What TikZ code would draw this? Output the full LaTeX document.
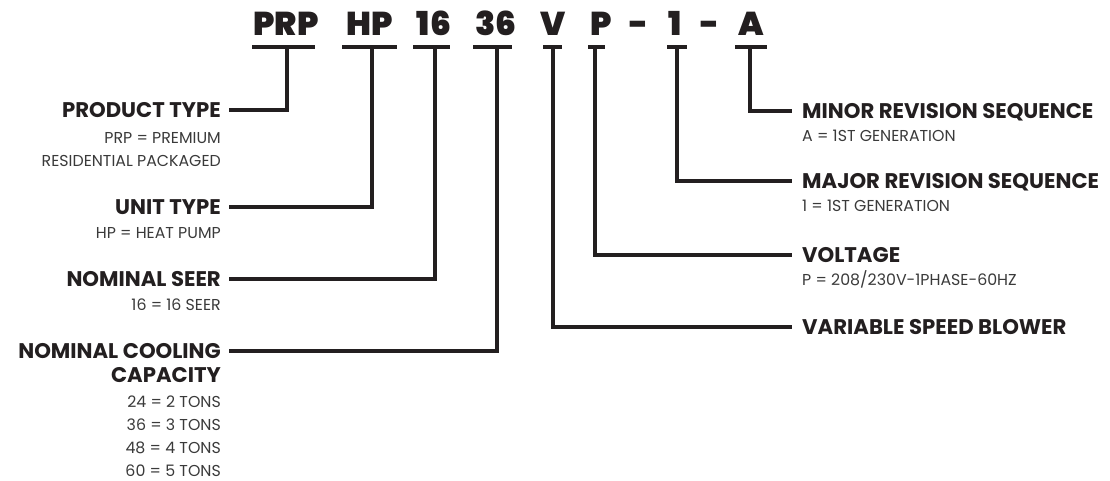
\documentclass[tikz,border=0pt]{standalone}
\usepackage{fontspec}
\setmainfont{Poppins}
\newfontfamily\blackfont{Poppins Black}
\newfontfamily\headfont{Poppins Bold}
\newfontfamily\subfont{Poppins}
\definecolor{ink}{HTML}{231F20}
\definecolor{subink}{HTML}{3A3A3A}

\begin{document}
\begin{tikzpicture}[
    x=1pt, y=-1pt,
    code/.style={font=\blackfont\fontsize{33}{35}\selectfont, text=ink, inner sep=0pt, anchor=base},
    head/.style={font=\headfont\fontsize{21.2}{24}\selectfont, text=ink, inner sep=0pt,
                 text height=14.5pt, text depth=0pt},
    sub/.style={font=\subfont\fontsize{15.8}{18}\selectfont, text=subink, inner sep=0pt},
    uline/.style={ink, line width=4pt},
    wire/.style={ink, line width=3.5pt},
]
\useasboundingbox (0,0) rectangle (1110,480);

% one part of the code: name, text, centre, bar from, bar to, stem
\newcommand{\codepart}[6]{%
  \node[code] (#1) at (#3, 35) {#2};
  \draw[uline] (#4, 47) -- (#5, 47);
  \coordinate (#1-s) at (#6, 47);}

\codepart{prp}{PRP}{286}{252}{315}{287}
\codepart{hp}{HP}{370}{342}{397}{372}
\codepart{seer}{16}{434}{413}{450}{435}
\codepart{tons}{36}{496}{473}{512}{497}
\codepart{blow}{V}{553}{543}{562}{553}
\codepart{volt}{P}{601}{588}{605}{595}
\codepart{major}{1}{675}{667}{687}{677}
\codepart{minor}{A}{751}{735}{767}{750}
\node[code] (dash1) at (639, 35) {-};
\node[code] (dash2) at (710, 35) {-};

% left hand labels
\node[head, anchor=base east] (prodlbl) at (221, 117) {PRODUCT TYPE};
\node[sub, anchor=base east] (prodsub1) at (221, 143) {PRP = PREMIUM};
\node[sub, anchor=base east] (prodsub2) at (221, 166) {RESIDENTIAL PACKAGED};
\node[head, anchor=base east] (unitlbl) at (221, 214) {UNIT TYPE};
\node[sub, anchor=base east] (unitsub) at (221, 238) {HP = HEAT PUMP};
\node[head, anchor=base east] (seerlbl) at (221, 286) {NOMINAL SEER};
\node[sub, anchor=base east] (seersub) at (221, 310) {16 = 16 SEER};
\node[head, anchor=base east] (caplbl) at (221, 358) {NOMINAL COOLING};
\node[head, anchor=base east] (caplbl2) at (221, 382) {CAPACITY};
\foreach \n/\t [count=\i] in {24/2, 36/3, 48/4, 60/5}
    \node[sub, anchor=base east] (capsub\i) at (221, {384+\i*23}) {\n{} = \t{} TONS};

% right hand labels
\node[head, anchor=base west] (minorlbl) at (802, 118) {MINOR REVISION SEQUENCE};
\node[sub, anchor=base west] (minorsub) at (802, 141.7) {A = 1ST GENERATION};
\node[head, anchor=base west] (majorlbl) at (802, 188) {MAJOR REVISION SEQUENCE};
\node[sub, anchor=base west] (majorsub) at (802, 211.7) {1 = 1ST GENERATION};
\node[head, anchor=base west] (voltlbl) at (802, 262) {VOLTAGE};
\node[sub, anchor=base west] (voltsub) at (802, 285.7) {P = 208/230V-1PHASE-60HZ};
\node[head, anchor=base west] (blowlbl) at (802, 334) {VARIABLE SPEED BLOWER};

% stems down and across to the labels
\draw[wire] (prp-s) |- ([xshift=8pt]prodlbl.east);
\draw[wire] (hp-s) |- ([xshift=8pt]unitlbl.east);
\draw[wire] (seer-s) |- ([xshift=8pt]seerlbl.east);
\draw[wire] (tons-s) |- ([xshift=8pt]caplbl.east);
\draw[wire] (blow-s) |- ([xshift=-10pt]blowlbl.west);
\draw[wire] (volt-s) |- ([xshift=-10pt]voltlbl.west);
\draw[wire] (major-s) |- ([xshift=-10pt]majorlbl.west);
\draw[wire] (minor-s) |- ([xshift=-10pt]minorlbl.west);
\end{tikzpicture}
\end{document}
